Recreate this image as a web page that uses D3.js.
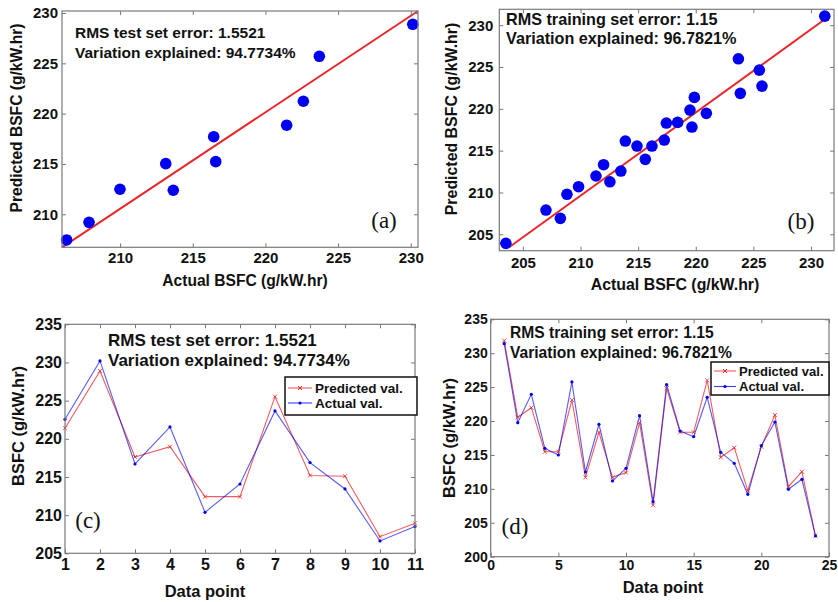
<!DOCTYPE html>
<html>
<head>
<meta charset="utf-8">
<script src="https://cdn.jsdelivr.net/npm/d3@7"></script>
<style>
  body { margin: 0; background: #fff; }
  svg { display: block; }
</style>
</head>
<body>
<svg id="fig" width="838" height="602"></svg>
<script>
// ---- data ----
// (a) test set: actual vs predicted
const scatterA_actual = [206.32, 207.86, 209.99, 213.14, 213.66, 216.44, 216.58, 221.46, 222.61, 223.71, 230.14];
const scatterA_pred   = [207.45, 209.2, 212.49, 215.03, 212.39, 217.71, 215.23, 218.85, 221.23, 225.7, 228.88];
const fitA_x = [206.0, 230.5];
const fitA_y = [206.72, 230.2];

// (b) training set: actual vs predicted
const scatterB_actual = [203.52, 207.0, 208.25, 208.82, 209.83, 211.34, 212.0, 212.55, 213.5, 213.89, 214.9, 215.62, 216.2,
  217.27, 217.45, 218.43, 219.5, 219.67, 219.88, 220.92, 223.7, 223.87, 225.52, 225.75, 231.2];
const scatterB_pred   = [203.92, 207.9, 206.91, 209.78, 210.69, 211.97, 213.32, 211.28, 212.56, 216.15, 215.55, 213.96, 215.55,
  216.27, 218.3, 218.38, 219.85, 217.82, 221.37, 219.46, 225.98, 221.85, 224.63, 222.72, 231.08];
const fitB_x = [203.8, 231.3];
const fitB_y = [203.45, 230.8];

// (c) test set by data point
const pointsC = [1, 2, 3, 4, 5, 6, 7, 8, 9, 10, 11];
const predictedC = [221.38, 228.89, 217.62, 218.97, 212.42, 212.42, 225.52, 215.2, 215.1, 207.18, 208.93];
const actualC    = [222.55, 230.2, 216.7, 221.55, 210.37, 214.08, 223.65, 216.88, 213.43, 206.62, 208.5];

// (d) training set by data point
const pointsD = [1, 2, 3, 4, 5, 6, 7, 8, 9, 10, 11, 12, 13, 14, 15, 16, 17, 18, 19, 20, 21, 22, 23, 24];
const predictedD = [231.85, 220.55, 221.97, 215.48, 215.48, 223.1, 211.7, 218.34, 211.7, 212.4, 219.76, 207.58,
  224.83, 218.34, 218.34, 226.0, 214.65, 216.07, 209.73, 216.22, 220.89, 210.32, 212.53, 203.1];
const actualD    = [231.4, 219.76, 223.94, 215.98, 214.99, 225.76, 212.49, 219.52, 211.16, 213.03, 220.79, 208.11,
  225.36, 218.53, 217.69, 223.5, 215.39, 213.77, 209.2, 216.37, 219.86, 209.94, 211.41, 203.05];

const ticksA_x = [210, 215, 220, 225, 230];
const ticksA_y = [210, 215, 220, 225, 230];
const ticksB = [205, 210, 215, 220, 225, 230];
const ticksC_y = [205, 210, 215, 220, 225, 230, 235];
const ticksD_x = [0, 5, 10, 15, 20, 25];
const ticksD_y = [200, 205, 210, 215, 220, 225, 230, 235];

const statsTest = ["RMS test set error: 1.5521", "Variation explained: 94.7734%"];
const statsTrain = ["RMS training set error: 1.15", "Variation explained: 96.7821%"];
const legendLabels = ["Predicted val.", "Actual val."];

const SANS = '"Liberation Sans", Arial, Helvetica, sans-serif';
const SERIF = '"Liberation Serif", "Times New Roman", serif';
const RED = "#e8272b";
const BLUE = "#0000f0";

const svg = d3.select("#fig");

// MATLAB style box: ticks pointing inwards on all four sides
function frame(g, x, y, o) {
  let [x0, x1] = x.range();
  let [y0, y1] = y.range();

  let styleAxis = s => {
    s.select(".domain").remove();
    s.attr("font-family", SANS).attr("font-weight", "bold").attr("font-size", o.tickFont);
    s.selectAll("line").attr("stroke", "#777");
    s.selectAll("text").attr("fill", "#111");
  };

  g.append("g").attr("transform", "translate(0," + y0 + ")")
    .call(d3.axisBottom(x).tickValues(o.xTicks).tickSize(-4).tickPadding(o.xPad))
    .call(styleAxis);
  g.append("g").attr("transform", "translate(0," + y1 + ")")
    .call(d3.axisTop(x).tickValues(o.xTicks).tickSize(-4).tickFormat(""))
    .call(styleAxis);
  g.append("g").attr("transform", "translate(" + x0 + ",0)")
    .call(d3.axisLeft(y).tickValues(o.yTicks).tickSize(-4).tickPadding(o.yPad))
    .call(styleAxis);
  g.append("g").attr("transform", "translate(" + x1 + ",0)")
    .call(d3.axisRight(y).tickValues(o.yTicks).tickSize(-4).tickFormat(""))
    .call(styleAxis);

  g.append("rect")
    .attr("x", x0).attr("y", y1)
    .attr("width", x1 - x0).attr("height", y0 - y1)
    .attr("fill", "none")
    .attr("stroke", "#7a7a7a")
    .attr("stroke-width", 1.2);

  // axis titles
  g.append("text")
    .attr("x", o.xTitle[0]).attr("y", o.xTitle[1])
    .attr("text-anchor", "middle")
    .attr("font-family", SANS).attr("font-weight", "bold").attr("font-size", o.titleFont)
    .attr("fill", "#111")
    .text(o.xLabel);
  g.append("text")
    .attr("transform", "translate(" + o.yTitle[0] + "," + o.yTitle[1] + ") rotate(-90)")
    .attr("text-anchor", "middle")
    .attr("font-family", SANS).attr("font-weight", "bold").attr("font-size", o.titleFont)
    .attr("fill", "#111")
    .text(o.yLabel);

  // stats text
  g.selectAll("text.stats")
    .data(o.stats)
    .enter()
    .append("text")
    .attr("class", "stats")
    .attr("x", o.statsPos[0])
    .attr("y", (d, i) => o.statsPos[1] + i * o.statsGap)
    .attr("font-family", SANS).attr("font-weight", "bold").attr("font-size", o.statsFont)
    .attr("fill", "#111")
    .text(d => d);

  // panel letter
  g.append("text")
    .attr("x", o.letterPos[0]).attr("y", o.letterPos[1])
    .attr("text-anchor", "middle")
    .attr("font-family", SERIF).attr("font-size", 23)
    .attr("fill", "#111")
    .text(o.letter);
}

function scatterPanel(o) {
  let g = svg.append("g");
  let x = d3.scaleLinear().domain(o.xDomain).range(o.xRange);
  let y = d3.scaleLinear().domain(o.yDomain).range(o.yRange);

  g.append("line")
    .attr("x1", x(o.fitX[0])).attr("y1", y(o.fitY[0]))
    .attr("x2", x(o.fitX[1])).attr("y2", y(o.fitY[1]))
    .attr("stroke", RED).attr("stroke-width", 2);

  g.selectAll("circle.dataPoint")
    .data(o.actual)
    .enter()
    .append("circle")
    .attr("class", "dataPoint")
    .attr("cx", d => x(d))
    .attr("cy", (d, i) => y(o.pred[i]))
    .attr("r", 5.8)
    .attr("fill", BLUE);

  frame(g, x, y, o);
}

function linePanel(o) {
  let g = svg.append("g");
  let x = d3.scaleLinear().domain(o.xDomain).range(o.xRange);
  let y = d3.scaleLinear().domain(o.yDomain).range(o.yRange);
  let line = d3.line().x((d, i) => x(o.points[i])).y(d => y(d));

  g.append("path").datum(o.pred)
    .attr("d", line).attr("fill", "none")
    .attr("stroke", RED).attr("stroke-opacity", 0.75).attr("stroke-width", 1.1);
  g.append("path").datum(o.actual)
    .attr("d", line).attr("fill", "none")
    .attr("stroke", BLUE).attr("stroke-opacity", 0.65).attr("stroke-width", 1.1);

  // x markers for predicted, dots for actual
  let xm = 2;
  g.selectAll("path.xmark")
    .data(o.pred)
    .enter()
    .append("path")
    .attr("class", "xmark")
    .attr("d", (d, i) => {
      let cx = x(o.points[i]), cy = y(d);
      return "M" + (cx - xm) + "," + (cy - xm) + "L" + (cx + xm) + "," + (cy + xm)
        + "M" + (cx - xm) + "," + (cy + xm) + "L" + (cx + xm) + "," + (cy - xm);
    })
    .attr("stroke", RED).attr("stroke-opacity", 0.8).attr("stroke-width", 1);
  g.selectAll("circle.dot")
    .data(o.actual)
    .enter()
    .append("circle")
    .attr("class", "dot")
    .attr("cx", (d, i) => x(o.points[i]))
    .attr("cy", d => y(d))
    .attr("r", 1.6)
    .attr("fill", BLUE);

  frame(g, x, y, o);

  // legend
  let L = o.legend;
  let lg = g.append("g").attr("transform", "translate(" + L.x + "," + L.y + ")");
  lg.append("rect")
    .attr("width", L.w).attr("height", L.h)
    .attr("fill", "#fff").attr("stroke", "#111").attr("stroke-width", 1.5);
  [RED, BLUE].forEach((c, i) => {
    let yy = L.first + i * L.gap;
    lg.append("line")
      .attr("x1", 3).attr("x2", L.lineLen).attr("y1", yy).attr("y2", yy)
      .attr("stroke", c).attr("stroke-opacity", 0.75).attr("stroke-width", 1.1);
    let mx = (3 + L.lineLen) / 2;
    if (i === 0) {
      lg.append("path")
        .attr("d", "M" + (mx - 2) + "," + (yy - 2) + "L" + (mx + 2) + "," + (yy + 2) + "M" + (mx - 2) + "," + (yy + 2) + "L" + (mx + 2) + "," + (yy - 2))
        .attr("stroke", c).attr("stroke-width", 1);
    } else {
      lg.append("circle").attr("cx", mx).attr("cy", yy).attr("r", 1.6).attr("fill", c);
    }
    lg.append("text")
      .attr("x", L.lineLen + 3).attr("y", yy + L.font * 0.36)
      .attr("font-family", SANS).attr("font-weight", "bold").attr("font-size", L.font)
      .attr("fill", "#111")
      .text(legendLabels[i]);
  });
}

// (a)
scatterPanel({
  actual: scatterA_actual, pred: scatterA_pred, fitX: fitA_x, fitY: fitA_y,
  xDomain: [206.0, 230.5], xRange: [62, 418],
  yDomain: [206.72, 230.2], yRange: [247.3, 11],
  xTicks: ticksA_x, yTicks: ticksA_y, xPad: 5, yPad: 4, tickFont: 15,
  xLabel: "Actual BSFC (g/kW.hr)", yLabel: "Predicted BSFC (g/kW.hr)",
  xTitle: [245, 286], yTitle: [22, 118], titleFont: 15.6,
  stats: statsTest, statsPos: [75, 38], statsGap: 20, statsFont: 15.5,
  letter: "(a)", letterPos: [384, 228]
});

// (b)
scatterPanel({
  actual: scatterB_actual, pred: scatterB_pred, fitX: fitB_x, fitY: fitB_y,
  xDomain: [202.95, 232.0], xRange: [499.3, 834],
  yDomain: [203.04, 231.9], yRange: [250.7, 9.3],
  xTicks: ticksB, yTicks: ticksB, xPad: 7, yPad: 6, tickFont: 15,
  xLabel: "Actual BSFC (g/kW.hr)", yLabel: "Predicted BSFC (g/kW.hr)",
  xTitle: [675, 290], yTitle: [456.5, 119], titleFont: 15.9,
  stats: statsTrain, statsPos: [506, 25], statsGap: 19, statsFont: 16.2,
  letter: "(b)", letterPos: [801, 229]
});

// (c)
linePanel({
  points: pointsC, pred: predictedC, actual: actualC,
  xDomain: [1, 11], xRange: [65, 415],
  yDomain: [205, 235], yRange: [553.3, 324.3],
  xTicks: pointsC, yTicks: ticksC_y, xPad: 5, yPad: 3, tickFont: 16,
  xLabel: "Data point", yLabel: "BSFC (g/kW.hr)",
  xTitle: [205, 597], yTitle: [23.5, 426], titleFont: 16.5,
  stats: statsTest, statsPos: [108, 346], statsGap: 20, statsFont: 17,
  letter: "(c)", letterPos: [88, 528],
  legend: { x: 285, y: 377, w: 132, h: 38, first: 11, gap: 15, lineLen: 27, font: 13.5 }
});

// (d)
linePanel({
  points: pointsD, pred: predictedD, actual: actualD,
  xDomain: [0, 25], xRange: [490.7, 829],
  yDomain: [200, 235], yRange: [556.7, 319.3],
  xTicks: ticksD_x, yTicks: ticksD_y, xPad: 3, yPad: 3, tickFont: 14,
  xLabel: "Data point", yLabel: "BSFC (g/kW.hr)",
  xTitle: [663, 593], yTitle: [455, 438], titleFont: 16.5,
  stats: statsTrain, statsPos: [510, 338], statsGap: 20, statsFont: 15.6,
  letter: "(d)", letterPos: [515, 534],
  legend: { x: 711, y: 362, w: 118, h: 33, first: 9, gap: 15.5, lineLen: 25, font: 13 }
});
</script>
</body>
</html>
